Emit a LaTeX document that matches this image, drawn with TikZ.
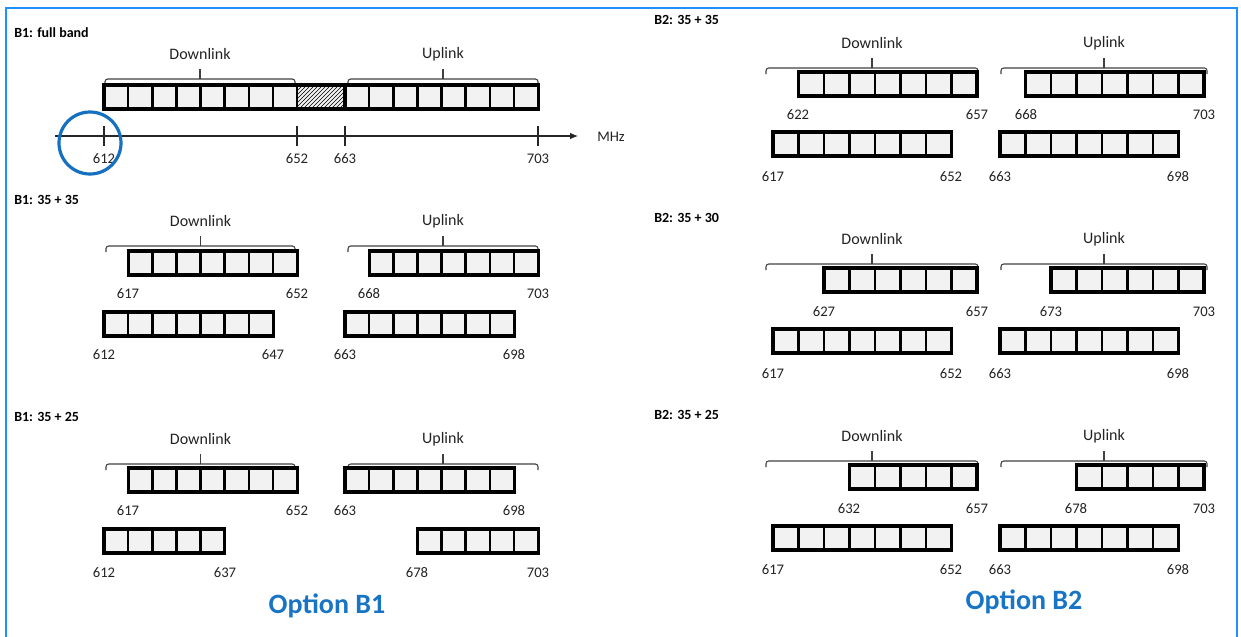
\documentclass[tikz,border=0pt]{standalone}
\usepackage{fontspec}
\setmainfont{Carlito}
\usetikzlibrary{arrows.meta,patterns}

\definecolor{frameblue}{RGB}{30,144,255}
\definecolor{markblue}{RGB}{22,112,192}
\definecolor{optionblue}{RGB}{24,116,196}
\definecolor{cellgray}{RGB}{242,242,242}
\definecolor{labelgray}{RGB}{35,35,35}

\tikzset{
  cell/.style={fill=cellgray, draw=black, line width=1.9pt},
  cellframe/.style={draw=black, line width=2.3pt},
  bracestyle/.style={draw=black!75, line width=0.8pt, rounded corners=2pt},
  linklabel/.style={inner sep=0.75pt, text=labelgray, font=\fontsize{12}{14}\selectfont},
  freq/.style={inner sep=0.75pt, text=labelgray, font=\fontsize{11}{13}\selectfont},
  title/.style={anchor=west, inner sep=0.75pt, font=\bfseries\fontsize{10.5}{12}\selectfont},
  option/.style={inner sep=0.75pt, text=optionblue, font=\bfseries\fontsize{21}{24}\selectfont}
}

% row of cells: x left, y top, number of cells, cell width
\newcommand{\cellrow}[4]{%
  \foreach \k in {1,...,#3}{
    \draw[cell] ({#1+(\k-1)*#4},#2) rectangle ++(#4,24);
  }
  \draw[cellframe] (#1,#2) rectangle ++({#3*#4},24);
}

% brace: x left, x right, y, text, node name
\newcommand{\bandbrace}[5]{%
  \draw[bracestyle] (#1,#3+6) -- (#1,#3) -- (#2,#3) -- (#2,#3+6);
  \draw[bracestyle] ({(#1+#2)/2},#3) -- ({(#1+#2)/2},#3-10);
  \node[linklabel] (#5) at ({(#1+#2)/2},#3-25) {#4};
}

\begin{document}
\begin{tikzpicture}[x=0.75pt,y=0.75pt,yscale=-1,xscale=1]
\useasboundingbox (0,0) rectangle (1241,636);

% outer frame
\draw[frameblue, line width=2.2pt] (6,650) -- (6,8) -- (1237,8) -- (1237,650);

%%%%% Option B1 %%%%%
% full band
\node[title] (t1) at (13,33) {B1: full band};
\bandbrace{105}{295}{79}{Downlink}{dl1}
\bandbrace{348}{538}{79}{Uplink}{ul1}
\cellrow{104}{85}{8}{24.15}
\fill[cellgray] (297.2,85) rectangle (345,109);
\fill[pattern=north east lines, pattern color=black] (297.2,85) rectangle (345,109);
\draw[cell, fill=none] (297.2,85) rectangle (345,109);
\cellrow{345}{85}{8}{24.15}
\draw[cellframe] (104,85) rectangle (538.2,109);

\draw[line width=0.8pt, black!85, -{Latex[length=6pt,width=5pt]}] (55,136) -- (578,136);
\foreach \x in {104,297,345,538}
  \draw[line width=0.8pt, black!85] (\x,126) -- (\x,146);
\node[freq] (a612) at (104,159) {612};
\node[freq] (a652) at (297,159) {652};
\node[freq] (a663) at (345,159) {663};
\node[freq] (a703) at (538,159) {703};
\node[freq] (mhz) at (611,137) {MHz};
\draw[markblue, line width=2.4pt] (90,143) circle (31);

% 35 + 35
\node[title] (t2) at (13,200) {B1: 35 + 35};
\bandbrace{106}{295}{246}{Downlink}{dl2}
\bandbrace{348}{538}{246}{Uplink}{ul2}
\cellrow{128.15}{251}{7}{24.15}
\cellrow{369.15}{251}{7}{24.15}
\node[freq] (b617) at (128,294) {617};
\node[freq] (b652) at (297,294) {652};
\node[freq] (b668) at (369,294) {668};
\node[freq] (b703) at (538,294) {703};
\cellrow{104}{312}{7}{24.15}
\cellrow{345}{312}{7}{24.15}
\node[freq] (b612) at (104,355) {612};
\node[freq] (b647) at (273,355) {647};
\node[freq] (b663) at (345,355) {663};
\node[freq] (b698) at (514,355) {698};

% 35 + 25
\node[title] (t3) at (13,417) {B1: 35 + 25};
\bandbrace{106}{295}{464}{Downlink}{dl3}
\bandbrace{348}{538}{464}{Uplink}{ul3}
\cellrow{128.15}{468}{7}{24.15}
\cellrow{345}{468}{7}{24.15}
\node[freq] (c617) at (128,511) {617};
\node[freq] (c652) at (297,511) {652};
\node[freq] (c663) at (345,511) {663};
\node[freq] (c698) at (514,511) {698};
\cellrow{104}{529}{5}{24.15}
\cellrow{417.45}{529}{5}{24.15}
\node[freq] (c612) at (104,573) {612};
\node[freq] (c637) at (225,573) {637};
\node[freq] (c678) at (417,573) {678};
\node[freq] (c703) at (538,573) {703};

\node[option] (optb1) at (327,606) {Option B1};

%%%%% Option B2 %%%%%
% 35 + 35
\node[title] (t4) at (653,20) {B2: 35 + 35};
\bandbrace{766}{978}{68}{Downlink}{dl4}
\bandbrace{1001}{1207}{68}{Uplink}{ul4}
\cellrow{798.5}{72}{7}{25.5}
\cellrow{1025.5}{72}{7}{25.5}
\node[freq] (d622) at (798,115) {622};
\node[freq] (d657) at (977,115) {657};
\node[freq] (d668) at (1026,115) {668};
\node[freq] (d703) at (1204,115) {703};
\cellrow{773}{132}{7}{25.5}
\cellrow{1000}{132}{7}{25.5}
\node[freq] (d617) at (773,177) {617};
\node[freq] (d652) at (951,177) {652};
\node[freq] (d663) at (1000,177) {663};
\node[freq] (d698) at (1178,177) {698};

% 35 + 30
\node[title] (t5) at (653,218) {B2: 35 + 30};
\bandbrace{766}{978}{264}{Downlink}{dl5}
\bandbrace{1001}{1207}{264}{Uplink}{ul5}
\cellrow{824}{268}{6}{25.5}
\cellrow{1051}{268}{6}{25.5}
\node[freq] (e627) at (824,312) {627};
\node[freq] (e657) at (977,312) {657};
\node[freq] (e673) at (1051,312) {673};
\node[freq] (e703) at (1204,312) {703};
\cellrow{773}{329}{7}{25.5}
\cellrow{1000}{329}{7}{25.5}
\node[freq] (e617) at (773,374) {617};
\node[freq] (e652) at (951,374) {652};
\node[freq] (e663) at (1000,374) {663};
\node[freq] (e698) at (1178,374) {698};

% 35 + 25
\node[title] (t6) at (653,415) {B2: 35 + 25};
\bandbrace{766}{978}{461}{Downlink}{dl6}
\bandbrace{1001}{1207}{461}{Uplink}{ul6}
\cellrow{849.5}{465}{5}{25.5}
\cellrow{1076.5}{465}{5}{25.5}
\node[freq] (f632) at (849,509) {632};
\node[freq] (f657) at (977,509) {657};
\node[freq] (f678) at (1076,509) {678};
\node[freq] (f703) at (1204,509) {703};
\cellrow{773}{526}{7}{25.5}
\cellrow{1000}{526}{7}{25.5}
\node[freq] (f617) at (773,570) {617};
\node[freq] (f652) at (951,570) {652};
\node[freq] (f663) at (1000,570) {663};
\node[freq] (f698) at (1178,570) {698};

\node[option] (optb2) at (1024,602) {Option B2};
\end{tikzpicture}
\end{document}
